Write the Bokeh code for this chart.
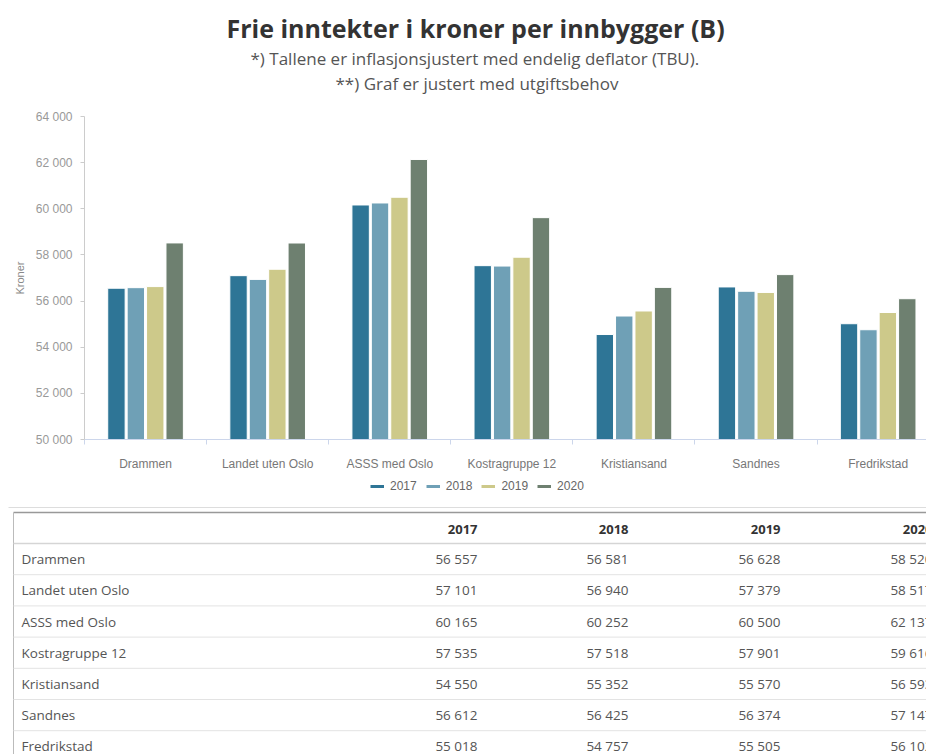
from bokeh.plotting import figure
from bokeh.models import Range1d, FixedTicker, Title, Legend, LegendItem
from bokeh.embed import file_html
from bokeh.resources import INLINE
from bokeh.core.properties import value

# ---------------- data ----------------
categories = ["Drammen", "Landet uten Oslo", "ASSS med Oslo", "Kostragruppe 12",
              "Kristiansand", "Sandnes", "Fredrikstad"]
years = ["2017", "2018", "2019", "2020"]
v2017 = [56557, 57101, 60165, 57535, 54550, 56612, 55018]
v2018 = [56581, 56940, 60252, 57518, 55352, 56425, 54757]
v2019 = [56628, 57379, 60500, 57901, 55570, 56374, 55505]
v2020 = [58520, 58517, 62137, 59616, 56593, 57147, 56102]
y_ticks = [50000, 52000, 54000, 56000, 58000, 60000, 62000, 64000]
series = [v2017, v2018, v2019, v2020]
colors = ["#2e7596", "#6fa0b6", "#cdc98a", "#6e8070"]

title_text = "Frie inntekter i kroner per innbygger (B)"
sub1_text = "*) Tallene er inflasjonsjustert med endelig deflator (TBU)."
sub2_text = "**) Graf er justert med utgiftsbehov"


def fmt(n):
    return f"{n:,}".replace(",", " ")


FONT = "Open Sans"
AXFONT = "Liberation Sans"
W = 926

# ---------------- chart ----------------
p = figure(width=W, height=473, x_range=Range1d(0, 6.896), y_range=Range1d(50000, 64000),
           output_backend="svg", toolbar_location=None,
           min_border_left=84, min_border_right=0, min_border_top=116, min_border_bottom=0)
p.outline_line_color = None
p.grid.visible = False

spacer = Title(text=" ", text_font_size="1px", standoff=19)
t_sub2 = Title(text=sub2_text, align="left", offset=251,
               text_font=FONT, text_font_size="17px", text_font_style="normal",
               text_color="#555555", standoff=0)
t_sub1 = Title(text=sub1_text, align="left", offset=166,
               text_font=FONT, text_font_size="17px", text_font_style="normal",
               text_color="#555555", standoff=0)
t_main = Title(text=title_text, align="left", offset=142,
               text_font=FONT, text_font_size="25px", text_font_style="bold",
               text_color="#333333", standoff=0)
p.add_layout(spacer, "above")
p.add_layout(t_sub2, "above")
p.add_layout(t_sub1, "above")
p.add_layout(t_main, "above")

n = len(categories)
step = 0.159
bar_w = 0.1425
centers = [i + 0.5 for i in range(n)]
for j, (vals, col) in enumerate(zip(series, colors)):
    xs = [c + (j - 1.5) * step for c in centers]
    p.vbar(x=xs, top=vals, bottom=50000, width=bar_w, fill_color=col,
           line_color="white", line_width=1)

# x axis
xa = p.xaxis[0]
xa.ticker = FixedTicker(ticks=centers, minor_ticks=list(range(n + 1)))
xa.major_label_overrides = {c: name for c, name in zip(centers, categories)}
xa.major_tick_out = 0
xa.major_tick_in = 0
xa.minor_tick_out = 5
xa.minor_tick_in = 0
xa.minor_tick_line_color = "#ccd6eb"
xa.axis_line_color = "#ccd6eb"
xa.major_label_standoff = 12
xa.major_label_text_font = AXFONT
xa.major_label_text_font_size = "12px"
xa.major_label_text_color = "#777777"

# y axis
ya = p.yaxis[0]
ya.ticker = FixedTicker(ticks=y_ticks)
ya.major_label_overrides = {t: fmt(t) for t in y_ticks}
ya.axis_label = "Kroner"
ya.axis_label_text_font = AXFONT
ya.axis_label_text_font_size = "11px"
ya.axis_label_text_font_style = "normal"
ya.axis_label_text_color = "#888888"
ya.axis_label_standoff = 7
ya.major_label_text_font = AXFONT
ya.major_label_text_font_size = "12px"
ya.major_label_text_color = "#999999"
ya.major_label_standoff = 8
ya.major_tick_out = 4
ya.major_tick_in = 0
ya.minor_tick_out = 0
ya.minor_tick_in = 0
ya.axis_line_color = "#cccccc"
ya.major_tick_line_color = "#cccccc"

# ---------------- legend + table ----------------
TW, TH = W, 281
t = figure(width=TW, height=TH, x_range=Range1d(0, TW), y_range=Range1d(TH, 0),
           output_backend="svg", toolbar_location=None, x_axis_location=None,
           y_axis_location=None, min_border=0)
t.outline_line_color = None
t.grid.visible = False

items = []
for yr, col in zip(years, colors):
    r = t.line(x=[float("nan")], y=[float("nan")], line_color=col, line_width=3)
    items.append(LegendItem(label=yr, renderers=[r]))
legend = Legend(items=items, orientation="horizontal", location=(370, 261),
                border_line_color=None, background_fill_alpha=0,
                label_text_font=AXFONT, label_text_font_size="12px", label_text_color="#666666",
                glyph_width=14, glyph_height=12, spacing=9, label_standoff=6,
                padding=0, margin=0, label_height=12)
t.add_layout(legend)

box_left = 13
box_top = 39
header_bottom = 70
row_h = 31.2
col_right = [477, 628, 780, 932]
row_centers = [header_bottom + row_h * (i + 0.5) for i in range(n)]
row_bounds = [header_bottom + row_h * (i + 1) for i in range(n)]

# separator above the table
t.segment(x0=[8], y0=[34], x1=[TW], y1=[34], line_color="#dddddd", line_width=1)
# box borders
t.segment(x0=[box_left], y0=[box_top], x1=[TW], y1=[box_top], line_color="#999999", line_width=1.5)
t.segment(x0=[box_left], y0=[box_top], x1=[box_left], y1=[TH], line_color="#bbbbbb", line_width=1)
# header bottom
t.segment(x0=[box_left], y0=[header_bottom], x1=[TW], y1=[header_bottom],
          line_color="#d5d5d5", line_width=1.5)
# row lines
t.segment(x0=[box_left] * n, y0=row_bounds, x1=[TW] * n, y1=row_bounds,
          line_color="#e3e3e3", line_width=1)

# header
t.text(x=col_right, y=[56] * 4, text=years, text_align="right",
       text_baseline="middle", text_font=value(FONT), text_font_size="13px",
       text_font_style="bold", text_color="#333333")
# names
t.text(x=[box_left + 8] * n, y=row_centers, text=categories, text_align="left",
       text_baseline="middle", text_font=value(FONT), text_font_size="13.5px",
       text_color="#555555")
# values
for j, vals in enumerate(series):
    t.text(x=[col_right[j]] * n, y=row_centers, text=[fmt(v) for v in vals],
           text_align="right", text_baseline="middle", text_font=value(FONT),
           text_font_size="13.5px", text_color="#555555")

open("out.html", "w").write(file_html([p, t], INLINE))
